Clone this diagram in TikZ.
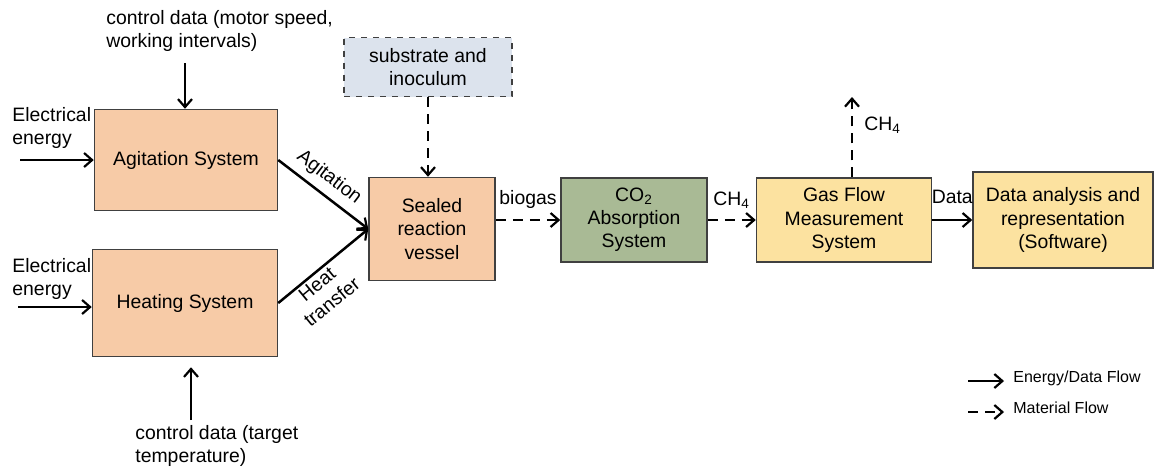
\documentclass[tikz,border=0pt]{standalone}
\usepackage{fontspec}
\setmainfont{Liberation Sans}
\usetikzlibrary{arrows.meta}
\definecolor{boxorange}{HTML}{F7CBA7}
\definecolor{boxblue}{HTML}{DCE3ED}
\definecolor{boxgreen}{HTML}{A9BA95}
\definecolor{boxyellow}{HTML}{FCE2A0}
\definecolor{boxline}{HTML}{404040}
\begin{document}
\begin{tikzpicture}[
	x=0.5pt, y=-0.5pt,
	font=\fontsize{9.7}{11.6}\selectfont,
	cell/.style={
		rectangle,
		draw=boxline,
		line width=0.75pt,
		align=center,
		inner sep=0pt,
	},
	lbl/.style={
		inner sep=1pt,
		align=left,
	},
	ArrowE/.style={% energy / data flow
		-{Straight Barb[length=4pt,width=7pt,line width=1.1pt]},
		line width=1.25pt,
	},
	ArrowM/.style={% material flow
		-{Straight Barb[length=4pt,width=7pt,line width=1.1pt]},
		line width=1.25pt,
		dash pattern=on 5pt off 3.5pt,
	},
]
	\useasboundingbox (0,0) rectangle (1154,468);

	\node [cell, fill=boxorange, minimum width=91.5pt, minimum height=50.5pt] (agit) at (186,160) {Agitation System};
	\node [cell, fill=boxorange, minimum width=92.5pt, minimum height=53.5pt] (heat) at (185,303) {Heating System};
	\node [cell, fill=boxblue, dashed, minimum width=84pt, minimum height=29.5pt] (subs) at (428,67) {substrate and\\inoculum};
	\node [cell, fill=boxorange, minimum width=63pt, minimum height=51.5pt] (vessel) at (432,229) {Sealed\\reaction\\vessel};
	\node [cell, fill=boxgreen, minimum width=73pt, minimum height=42pt] (absorb) at (634,220) {CO\textsubscript{2}\\Absorption\\System};
	\node [cell, fill=boxyellow, minimum width=87.5pt, minimum height=42pt] (flow) at (844,220) {Gas Flow\\Measurement\\System};
	\node [cell, fill=boxyellow, minimum width=90pt, minimum height=48pt] (soft) at (1063,220) {Data analysis and\\representation\\(Software)};

	\node [lbl, anchor=north west] (ctrlagit) at (104,8) {control data (motor speed,\\working intervals)};
	\node [lbl, anchor=north west] (ctrlheat) at (133,423) {control data (target\\temperature)};
	\node [lbl, anchor=north west] (elagit) at (10,105) {Electrical\\energy};
	\node [lbl, anchor=north west] (elheat) at (10,256) {Electrical\\energy};
	\node [lbl, anchor=west] (ch4up) at (862,125) {CH\textsubscript{4}};
	\node [lbl, anchor=west] (legE) at (1011,378) {\fontsize{8}{9.6}\selectfont Energy/Data Flow};
	\node [lbl, anchor=west] (legM) at (1011,408) {\fontsize{8}{9.6}\selectfont Material Flow};

	\coordinate (ctrlagitend) at (185,63);
	\coordinate (ctrlheatend) at (191,420);
	\coordinate (elagitend) at (20,160);
	\coordinate (elheatend) at (18,307);
	\coordinate (ch4top) at (852,97);
	\coordinate (legEa) at (968,381);
	\coordinate (legEb) at (1004,381);
	\coordinate (legMa) at (968,412);
	\coordinate (legMb) at (1004,412);

	\draw [ArrowE] (ctrlagitend) -- (agit.north -| ctrlagitend);
	\draw [ArrowE] (ctrlheatend) -- ([yshift=-5pt]heat.south -| ctrlheatend);
	\draw [ArrowE] (elagitend) -- (agit.west |- elagitend);
	\draw [ArrowE] (elheatend) -- (heat.west |- elheatend);
	\draw [ArrowE] (agit.east) -- node [above, sloped, pos=0.45] {Agitation} (vessel.west);
	\draw [ArrowE] (heat.east) -- node [below, sloped, align=center, pos=0.36, inner sep=1pt] {Heat\\transfer} (vessel.west);
	\draw [ArrowM] (subs.south) -- (vessel.north -| subs.south);
	\draw [ArrowM] (vessel.east |- absorb.west) -- node [above, yshift=2pt] {biogas} (absorb.west);
	\draw [ArrowM] (absorb.east) -- node [above, yshift=2pt] {CH\textsubscript{4}} (flow.west);
	\draw [ArrowM] (flow.north -| ch4top) -- (ch4top);
	\draw [ArrowE] (flow.east) -- node [above, yshift=4pt, xshift=0pt] {Data} (soft.west);
	\draw [ArrowE] (legEa) -- (legEb);
	\draw [ArrowM] (legMa) -- (legMb);
\end{tikzpicture}
\end{document}
